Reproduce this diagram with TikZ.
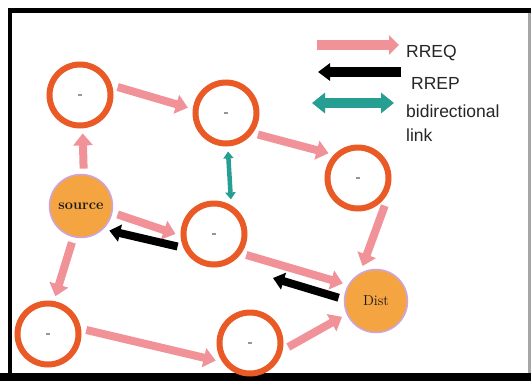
\documentclass[tikz,border=0pt]{standalone}
\usepackage{fontspec}
\newfontfamily\legendfont{Liberation Sans}
\usetikzlibrary{arrows.meta}

\definecolor{ringc}{RGB}{234,90,38}
\definecolor{endfill}{RGB}{244,164,64}
\definecolor{endrim}{RGB}{204,164,226}
\definecolor{reqc}{RGB}{240,146,152}
\definecolor{linkc}{RGB}{38,158,146}
\definecolor{markc}{RGB}{150,150,150}

\tikzset{
  hop/.style={circle, draw=ringc, line width=6pt, minimum size=61pt,
    inner sep=0pt, outer sep=8pt,
    node contents={\textcolor{markc}{\rule{4pt}{1.6pt}}}},
  endpoint/.style={circle, draw=endrim, line width=1.5pt, fill=endfill,
    minimum size=63pt, inner sep=0pt, outer sep=6pt,
    font=\fontsize{14.5}{16}\selectfont, text=black!90},
  rreq/.style={draw=reqc, line width=8pt,
    -{Triangle[width=19pt,length=12pt]}},
  rrep/.style={draw=black, line width=8pt,
    -{Triangle[width=17pt,length=11pt]}},
  bilink/.style={draw=linkc, line width=4.5pt,
    {Triangle[width=10pt,length=7pt]}-{Triangle[width=10pt,length=7pt]}},
  legtext/.style={anchor=base west, inner sep=0pt,
    font=\legendfont\fontsize{17.5}{20}\selectfont, text=black!85}
}

\begin{document}
\begin{tikzpicture}[x=1pt, y=-1pt]
  \useasboundingbox (0,0) rectangle (531,381);

  % frame
  \fill[white] (0,0) rectangle (531,381);
  \fill[black] (8,8) rectangle (531,381);
  \fill[black] (0,373) rectangle (531,381);
  \fill[white] (12,13) rectangle (528,373);
  \fill[black!35] (528,13) rectangle (531,373);

  % network nodes
  \node (n1) at (80,95) [hop];
  \node (n2) at (226,113) [hop];
  \node (n3) at (358,178) [hop];
  \node (n4) at (214,234) [hop];
  \node (n5) at (48,334) [hop];
  \node (n6) at (250,343) [hop];
  \node[endpoint] (src) at (81,206) {\bfseries source};
  \node[endpoint] (dst) at (376,301) {Dist};
  \coordinate (repend) at (273,278);

  % route requests
  \draw[rreq] (src.86)  -- (n1.-86);
  \draw[rreq] (n1.12)   -- (n2.172);
  \draw[rreq] (n2.-34)  -- (n3.140);
  \draw[rreq] (src.-13) -- (n4.180);
  \draw[rreq] (n3.-46)  -- (dst.111);
  \draw[rreq] (n4.-33)  -- (dst.152);
  \draw[rreq] (src.-104) -- (n5.79);
  \draw[rreq] (n5.6)    -- (n6.-153);
  \draw[rreq] (n6.-6)   -- (dst.-155);

  % route replies
  \draw[rrep] (n4.-161) -- (src.-41);
  \draw[rrep] (dst.175) -- (repend);

  % bidirectional link
  \draw[bilink] (n2.-87) -- (n4.64);

  % legend
  \coordinate (lq1) at (317,45);  \coordinate (lq2) at (399,45);
  \coordinate (lp1) at (401,72);  \coordinate (lp2) at (318,72);
  \coordinate (ll1) at (312,103); \coordinate (ll2) at (394,103);
  \draw[rreq, line width=10pt, -{Triangle[width=19pt,length=10pt]}] (lq1) -- (lq2);
  \draw[rrep, line width=10pt, -{Triangle[width=17pt,length=12pt]}] (lp1) -- (lp2);
  \draw[draw=linkc, line width=10pt,
    {Triangle[width=20pt,length=13pt]}-{Triangle[width=20pt,length=13pt]}] (ll1) -- (ll2);
  \node[legtext] (tq) at (406,57) {RREQ};
  \node[legtext] (tp) at (411,89) {RREP};
  \node[legtext] (tb) at (406,117) {bidirectional};
  \node[legtext] (tl) at (406,141) {link};
\end{tikzpicture}
\end{document}
